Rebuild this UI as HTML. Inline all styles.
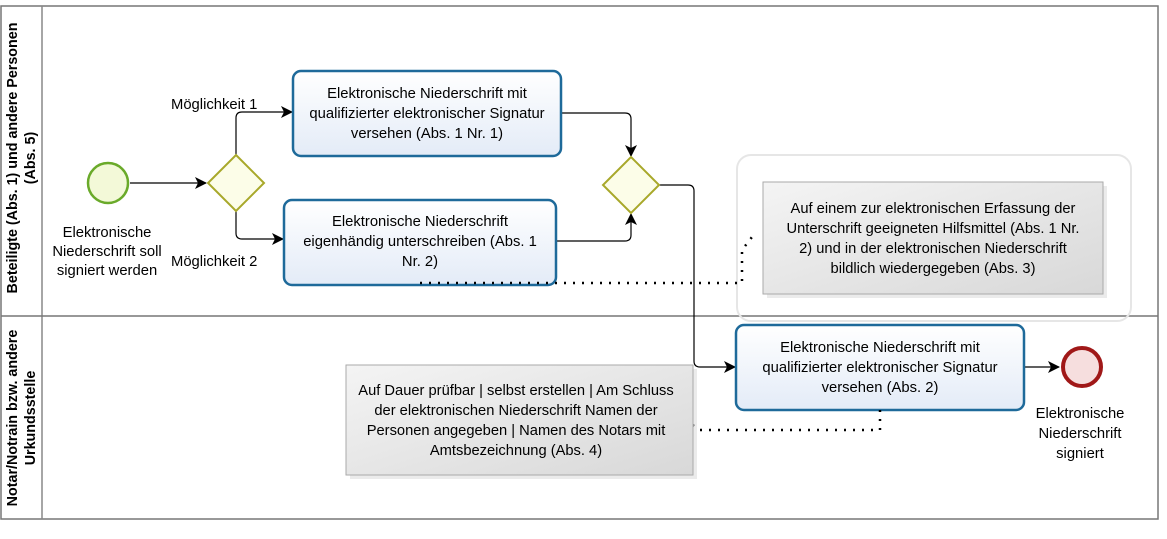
<!DOCTYPE html>
<html><head><meta charset="utf-8"><style>
body{margin:0;background:#fff;width:1167px;height:534px;overflow:hidden}
svg{font-family:"Liberation Sans",sans-serif}
</style></head><body>
<svg width="1167" height="534" viewBox="0 0 1167 534" xmlns="http://www.w3.org/2000/svg">
<defs>
<linearGradient id="tg" x1="0" y1="0" x2="0" y2="1"><stop offset="0" stop-color="#ffffff"/><stop offset="1" stop-color="#e3ebf7"/></linearGradient>
<linearGradient id="ag" x1="0" y1="0" x2="1" y2="1"><stop offset="0" stop-color="#f4f4f4"/><stop offset="1" stop-color="#d8d8d8"/></linearGradient>
<marker id="ar" markerWidth="12" markerHeight="12" refX="11" refY="6" orient="auto" markerUnits="userSpaceOnUse"><path d="M0,0 L12,6 L0,12 L3,6 z" fill="#000"/></marker>
</defs>
<rect x="1" y="6" width="1157" height="513" fill="#fff" stroke="#777" stroke-width="1.5"/>
<line x1="42" y1="6" x2="42" y2="519" stroke="#888" stroke-width="1.5"/>
<line x1="1" y1="316" x2="1158" y2="316" stroke="#777" stroke-width="1.5"/>
<text transform="translate(17,158) rotate(-90)" text-anchor="middle" font-size="14.3" font-weight="bold">Beteiligte (Abs. 1) und andere Personen</text>
<text transform="translate(35,158) rotate(-90)" text-anchor="middle" font-size="14.3" font-weight="bold">(Abs. 5)</text>
<text transform="translate(17,418) rotate(-90)" text-anchor="middle" font-size="14.3" font-weight="bold">Notar/Notrain bzw. andere</text>
<text transform="translate(35,418) rotate(-90)" text-anchor="middle" font-size="14.3" font-weight="bold">Urkundsstelle</text>

<rect x="737" y="155" width="394" height="166" rx="14" fill="none" stroke="#e6e6e6" stroke-width="2"/>

<g fill="none" stroke="#000" stroke-width="1.2">
<path d="M130,183 H206" marker-end="url(#ar)"/>
<path d="M236,155 V118 Q236,112 242,112 H292" marker-end="url(#ar)"/>
<path d="M236,211 V233 Q236,239 242,239 H283" marker-end="url(#ar)"/>
<path d="M561,113 H625 Q631,113 631,119 V156" marker-end="url(#ar)"/>
<path d="M556,241 H625 Q631,241 631,235 V214" marker-end="url(#ar)"/>
<path d="M659,185 H688 Q694,185 694,191 V361 Q694,367 700,367 H735" marker-end="url(#ar)"/>
<path d="M1024,367 H1059" marker-end="url(#ar)"/>
</g>

<circle cx="108" cy="183" r="20" fill="#f3f9d8" stroke="#6aaa2a" stroke-width="2.5"/>
<text font-size="14.8" text-anchor="middle"><tspan x="107" y="237">Elektronische</tspan><tspan x="107" y="256">Niederschrift soll</tspan><tspan x="107" y="275">signiert werden</tspan></text>
<path d="M236,155 L264,183 L236,211 L208,183 z" fill="#fcfde8" stroke="#a8a82a" stroke-width="2"/>
<path d="M631,157 L659,185 L631,213 L603,185 z" fill="#fcfde8" stroke="#a8a82a" stroke-width="2"/>
<text font-size="14.8" x="171" y="109">Möglichkeit 1</text>
<text font-size="14.8" x="171" y="266">Möglichkeit 2</text>

<rect x="293" y="71" width="268" height="85" rx="8" fill="url(#tg)" stroke="#1e6a9a" stroke-width="2.5"/>
<text font-size="14.8" text-anchor="middle"><tspan x="427" y="98">Elektronische Niederschrift mit</tspan><tspan x="427" y="118">qualifizierter elektronischer Signatur</tspan><tspan x="427" y="138">versehen (Abs. 1 Nr. 1)</tspan></text>
<rect x="284" y="200" width="272" height="85" rx="8" fill="url(#tg)" stroke="#1e6a9a" stroke-width="2.5"/>
<text font-size="14.8" text-anchor="middle"><tspan x="420" y="226">Elektronische Niederschrift</tspan><tspan x="420" y="246">eigenhändig unterschreiben (Abs. 1</tspan><tspan x="420" y="266">Nr. 2)</tspan></text>
<rect x="736" y="325" width="288" height="85" rx="8" fill="url(#tg)" stroke="#1e6a9a" stroke-width="2.5"/>
<text font-size="14.8" text-anchor="middle"><tspan x="880" y="352">Elektronische Niederschrift mit</tspan><tspan x="880" y="372">qualifizierter elektronischer Signatur</tspan><tspan x="880" y="392">versehen (Abs. 2)</tspan></text>

<g fill="none" stroke="#000" stroke-width="2.5" stroke-dasharray="2,7">
<path d="M420,283 H742 V250 L752,237"/>
<path d="M880,410 V430 H700 L683,418"/>
</g>

<rect x="767" y="186" width="340" height="112" fill="#ddd" opacity="0.6"/>
<rect x="763" y="182" width="340" height="112" fill="url(#ag)" stroke="#aaa" stroke-width="1"/>
<text font-size="14.7" text-anchor="middle"><tspan x="933" y="213">Auf einem zur elektronischen Erfassung der</tspan><tspan x="933" y="233">Unterschrift geeigneten Hilfsmittel  (Abs. 1 Nr.</tspan><tspan x="933" y="253">2) und in der elektronischen Niederschrift</tspan><tspan x="933" y="273">bildlich wiedergegeben (Abs. 3)</tspan></text>
<rect x="350" y="369" width="347" height="110" fill="#ddd" opacity="0.6"/>
<rect x="346" y="365" width="347" height="110" fill="url(#ag)" stroke="#aaa" stroke-width="1"/>
<text font-size="14.7" text-anchor="middle"><tspan x="516" y="395">Auf Dauer prüfbar | selbst erstellen | Am Schluss</tspan><tspan x="516" y="415">der elektronischen Niederschrift Namen der</tspan><tspan x="516" y="435">Personen angegeben | Namen des Notars mit</tspan><tspan x="516" y="455">Amtsbezeichnung (Abs. 4)</tspan></text>

<circle cx="1082" cy="367" r="19" fill="#f6dede" stroke="#a01818" stroke-width="4"/>
<text font-size="14.8" text-anchor="middle"><tspan x="1080" y="418">Elektronische</tspan><tspan x="1080" y="438">Niederschrift</tspan><tspan x="1080" y="458">signiert</tspan></text>
</svg>
</body></html>
